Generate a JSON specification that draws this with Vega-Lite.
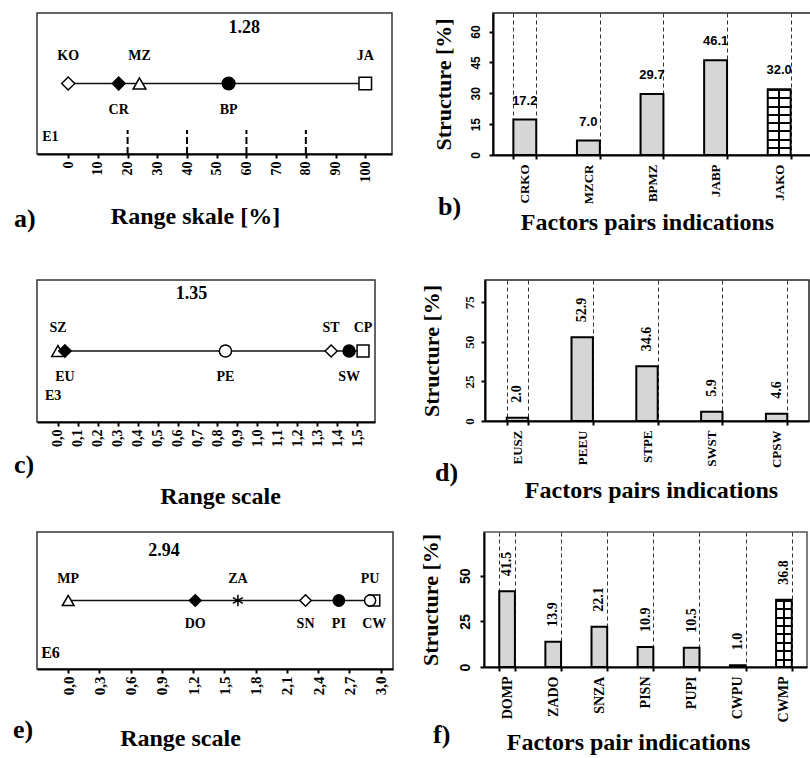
{
  "$schema": "https://vega.github.io/schema/vega-lite/v6.json",
  "background": "white",
  "padding": {"left": 12, "top": 12, "right": 0, "bottom": 0},
  "config": {
    "font": "Liberation Serif",
    "axis": {"domainColor": "black", "domainWidth": 2, "tickColor": "black", "tickWidth": 2, "tickSize": 4, "labelColor": "black", "titleColor": "black", "labelFont": "Liberation Serif", "labelFontWeight": "bold", "titleFont": "Liberation Serif", "titleFontWeight": "bold", "grid": false, "labelOverlap": false, "labelFlush": false},
    "title": {"font": "Liberation Serif", "fontWeight": "bold", "fontSize": 26, "color": "black", "orient": "bottom", "anchor": "start", "baseline": "alphabetic", "offset": 0},
    "view": {"stroke": "#333", "strokeWidth": 1.5},
    "text": {"font": "Liberation Serif", "fontWeight": "bold", "color": "black"}
  },
  "datasets": {
    "dotA": [{"factor": "KO", "value": 0}, {"factor": "CR", "value": 17}, {"factor": "MZ", "value": 24}, {"factor": "BP", "value": 54}, {"factor": "JA", "value": 100}],
    "marksA": [{"value": 20}, {"value": 40}, {"value": 60}, {"value": 80}],
    "dotC": [{"factor": "SZ", "value": 0}, {"factor": "EU", "value": 0.035}, {"factor": "PE", "value": 0.84}, {"factor": "ST", "value": 1.37}, {"factor": "SW", "value": 1.46}, {"factor": "CP", "value": 1.53}],
    "dotE": [{"factor": "MP", "value": 0}, {"factor": "DO", "value": 1.22}, {"factor": "ZA", "value": 1.63}, {"factor": "SN", "value": 2.28}, {"factor": "PI", "value": 2.6}, {"factor": "CW", "value": 2.94}, {"factor": "PU", "value": 2.9}],
    "barB": [{"pair": "CRKO", "share": 17.2, "type": "pair"}, {"pair": "MZCR", "share": 7.0, "type": "pair"}, {"pair": "BPMZ", "share": 29.7, "type": "pair"}, {"pair": "JABP", "share": 46.1, "type": "pair"}, {"pair": "JAKO", "share": 32.0, "type": "range"}],
    "barD": [{"pair": "EUSZ", "share": 2.0, "type": "pair"}, {"pair": "PEEU", "share": 52.9, "type": "pair"}, {"pair": "STPE", "share": 34.6, "type": "pair"}, {"pair": "SWST", "share": 5.9, "type": "pair"}, {"pair": "CPSW", "share": 4.6, "type": "pair"}],
    "barF": [{"pair": "DOMP", "share": 41.5, "type": "pair"}, {"pair": "ZADO", "share": 13.9, "type": "pair"}, {"pair": "SNZA", "share": 22.1, "type": "pair"}, {"pair": "PISN", "share": 10.9, "type": "pair"}, {"pair": "PUPI", "share": 10.5, "type": "pair"}, {"pair": "CWPU", "share": 1.0, "type": "pair"}, {"pair": "CWMP", "share": 36.8, "type": "range"}]
  },
  "vconcat": [
    {
      "hconcat": [
        {
          "width": 355, "height": 141,
          "title": {"text": "a)", "dx": -23, "dy": -26},
          "layer": [
            {
              "data": {"name": "dotA"},
              "encoding": {
                "x": {"field": "value", "type": "quantitative", "scale": {"domain": [-10.5, 109], "nice": false, "zero": false},
                      "axis": {"values": [0, 10, 20, 30, 40, 50, 60, 70, 80, 90, 100], "labelOverlap": false, "labelFlush": false, "labelAngle": 270, "labelAlign": "right", "labelBaseline": "middle", "labelFontSize": 14, "labelPadding": 3, "title": "Range skale [%]", "titleFontSize": 24, "titleX": 158, "titleY": 69, "titleAlign": "center", "titleBaseline": "alphabetic"}},
                "y": {"datum": 5, "type": "quantitative", "scale": {"domain": [0, 10], "nice": false, "zero": false}, "axis": null}
              },
              "layer": [
                {"mark": {"type": "line", "color": "#111", "strokeWidth": 1.5}},
                {"mark": {"type": "point", "filled": true, "opacity": 1, "stroke": "black", "strokeWidth": 1.5},
                 "encoding": {
                   "shape": {"field": "factor", "type": "nominal", "legend": null, "scale": {"domain": ["KO","CR","MZ","BP","JA","SZ","EU","PE","ST","SW","CP","MP","DO","ZA","SN","PI","PU","CW"], "range": ["diamond","diamond","triangle-up","circle","square","triangle-up","diamond","circle","diamond","circle","square","triangle-up","diamond","M0,-1L0,1M-0.87,-0.5L0.87,0.5M-0.87,0.5L0.87,-0.5","diamond","circle","circle","square"]}},
                   "fill": {"field": "factor", "type": "nominal", "legend": null, "scale": {"domain": ["KO","CR","MZ","BP","JA","SZ","EU","PE","ST","SW","CP","MP","DO","ZA","SN","PI","PU","CW"], "range": ["white","black","white","black","white","white","black","white","white","black","white","white","black","white","white","black","white","white"]}},
                   "size": {"field": "factor", "type": "nominal", "legend": null, "scale": {"domain": ["KO","CR","MZ","BP","JA","SZ","EU","PE","ST","SW","CP","MP","DO","ZA","SN","PI","PU","CW"], "range": [169,121,196,144,196,169,121,110,169,150,196,196,200,196,169,150,110,180]}}}},
                {"transform": [{"filter": "indexof(['KO','MZ','JA'], datum.factor) >= 0"}],
                 "mark": {"type": "text", "fontSize": 14, "baseline": "middle"},
                 "encoding": {"y": {"datum": 6.95}, "text": {"field": "factor"}}},
                {"transform": [{"filter": "indexof(['KO','MZ','JA'], datum.factor) < 0"}],
                 "mark": {"type": "text", "fontSize": 14, "baseline": "middle"},
                 "encoding": {"y": {"datum": 3.1}, "text": {"field": "factor"}}},
                {"data": {"name": "marksA"},
                 "mark": {"type": "rule", "color": "black", "strokeWidth": 2, "strokeDash": [7, 3]},
                 "encoding": {"y": {"datum": 0}, "y2": {"datum": 1.7}}}
              ]
            },
            {"data": {"values": [{"note": "1.28"}]},
             "mark": {"type": "text", "fontSize": 18, "baseline": "middle"},
             "encoding": {
               "x": {"datum": 59.3, "type": "quantitative", "scale": {"domain": [-10.5, 109], "nice": false, "zero": false},
                     "axis": {"values": [0, 10, 20, 30, 40, 50, 60, 70, 80, 90, 100], "labelOverlap": false, "labelFlush": false, "labelAngle": 270, "labelAlign": "right", "labelBaseline": "middle", "labelFontSize": 14, "labelPadding": 3, "title": "Range skale [%]", "titleFontSize": 24, "titleX": 158, "titleY": 69, "titleAlign": "center", "titleBaseline": "alphabetic"}},
               "y": {"datum": 8.94, "type": "quantitative", "axis": null}, "text": {"field": "note"}}},
            {"data": {"values": [{"note": "E1"}]},
             "mark": {"type": "text", "fontSize": 14, "align": "left", "baseline": "middle"},
             "encoding": {
               "x": {"datum": -8.75, "type": "quantitative", "scale": {"domain": [-10.5, 109], "nice": false, "zero": false},
                     "axis": {"values": [0, 10, 20, 30, 40, 50, 60, 70, 80, 90, 100], "labelOverlap": false, "labelFlush": false, "labelAngle": 270, "labelAlign": "right", "labelBaseline": "middle", "labelFontSize": 14, "labelPadding": 3, "title": "Range skale [%]", "titleFontSize": 24, "titleX": 158, "titleY": 69, "titleAlign": "center", "titleBaseline": "alphabetic"}},
               "y": {"datum": 1.2, "type": "quantitative", "axis": null}, "text": {"field": "note"}}}
          ]
        },
        {
          "width": 318, "height": 142,
          "view": {"stroke": "#222", "strokeWidth": 1.5},
          "title": {"text": "b)", "dx": 6, "dy": -44},
          "data": {"name": "barB"},
          "encoding": {
            "x": {"field": "pair", "type": "nominal", "sort": null, "scale": {"domain": ["CRKO","MZCR","BPMZ","JABP","JAKO"], "paddingInner": 0.64, "paddingOuter": 0.32},
                  "axis": {"labelAngle": 270, "labelAlign": "right", "labelBaseline": "middle", "labelFontSize": 13, "labelPadding": 5, "tickBand": "extent", "grid": true, "gridDash": [4, 3], "gridColor": "#333", "gridWidth": 1, "title": "Factors pairs indications", "titleFontSize": 24, "titleX": 154, "titleY": 74, "titleAlign": "center", "titleBaseline": "alphabetic"}},
            "y": {"field": "share", "type": "quantitative", "scale": {"domain": [0, 69], "nice": false},
                  "axis": {"values": [0, 15, 30, 45, 60], "labelAngle": 270, "labelAlign": "center", "labelBaseline": "bottom", "labelFont": "Liberation Sans", "labelFontSize": 12, "labelPadding": 7, "title": "Structure [%]", "titleFontSize": 22, "titlePadding": 14}}
          },
          "layer": [
            {"transform": [{"filter": "datum.type === 'pair'"}], "mark": {"type": "bar", "fill": "#d6d6d6", "stroke": "black", "strokeWidth": 2}},
            {"transform": [{"filter": "datum.type === 'range'"}], "mark": {"type": "bar", "stroke": "black", "strokeWidth": 2, "fill": {"gradient": "linear", "x1": 0, "y1": 0, "x2": 0, "y2": 1, "stops": [
              {"offset": 0, "color": "#000"}, {"offset": 0.03, "color": "#000"}, {"offset": 0.03, "color": "#fff"},
              {"offset": 0.125, "color": "#fff"}, {"offset": 0.125, "color": "#000"}, {"offset": 0.155, "color": "#000"}, {"offset": 0.155, "color": "#fff"},
              {"offset": 0.25, "color": "#fff"}, {"offset": 0.25, "color": "#000"}, {"offset": 0.28, "color": "#000"}, {"offset": 0.28, "color": "#fff"},
              {"offset": 0.375, "color": "#fff"}, {"offset": 0.375, "color": "#000"}, {"offset": 0.405, "color": "#000"}, {"offset": 0.405, "color": "#fff"},
              {"offset": 0.5, "color": "#fff"}, {"offset": 0.5, "color": "#000"}, {"offset": 0.53, "color": "#000"}, {"offset": 0.53, "color": "#fff"},
              {"offset": 0.625, "color": "#fff"}, {"offset": 0.625, "color": "#000"}, {"offset": 0.655, "color": "#000"}, {"offset": 0.655, "color": "#fff"},
              {"offset": 0.75, "color": "#fff"}, {"offset": 0.75, "color": "#000"}, {"offset": 0.78, "color": "#000"}, {"offset": 0.78, "color": "#fff"},
              {"offset": 0.875, "color": "#fff"}, {"offset": 0.875, "color": "#000"}, {"offset": 0.905, "color": "#000"}, {"offset": 0.905, "color": "#fff"},
              {"offset": 1, "color": "#fff"}]}}},
            {"transform": [{"filter": "datum.type === 'range'"}], "mark": {"type": "bar", "strokeWidth": 0, "fill": {"gradient": "linear", "x1": 0, "y1": 0, "x2": 1, "y2": 0, "stops": [
              {"offset": 0, "color": "rgba(0,0,0,0)"}, {"offset": 0.46, "color": "rgba(0,0,0,0)"}, {"offset": 0.46, "color": "#000"}, {"offset": 0.54, "color": "#000"}, {"offset": 0.54, "color": "rgba(0,0,0,0)"}, {"offset": 1, "color": "rgba(0,0,0,0)"}]}}},
            {"mark": {"type": "text", "dy": -12, "baseline": "bottom", "font": "Liberation Sans", "fontSize": 13},
             "encoding": {"text": {"field": "share", "type": "quantitative", "format": ".1f"}}}
          ]
        }
      ],
      "spacing": 38
    },
    {
      "vconcat": [
        {
          "hconcat": [
            {
              "width": 338, "height": 142,
              "title": {"text": "c)", "dx": -23, "dy": -60},
              "layer": [
                {
                  "data": {"name": "dotC"},
                  "encoding": {
                    "x": {"field": "value", "type": "quantitative", "scale": {"domain": [-0.105, 1.59], "nice": false, "zero": false},
                          "axis": {"values": [0, 0.1, 0.2, 0.3, 0.4, 0.5, 0.6, 0.7, 0.8, 0.9, 1.0, 1.1, 1.2, 1.3, 1.4, 1.5], "labelExpr": "replace(format(datum.value, '.1f'), '.', ',')", "labelOverlap": false, "labelFlush": false, "labelAngle": 270, "labelAlign": "right", "labelBaseline": "middle", "labelFontSize": 14, "labelPadding": 3, "title": "Range scale", "titleFontSize": 24, "titleX": 183, "titleY": 81, "titleAlign": "center", "titleBaseline": "alphabetic"}},
                    "y": {"datum": 5, "type": "quantitative", "scale": {"domain": [0, 10], "nice": false, "zero": false}, "axis": null}
                  },
                  "layer": [
                    {"mark": {"type": "line", "color": "#111", "strokeWidth": 1.5}},
                    {"mark": {"type": "point", "filled": true, "opacity": 1, "stroke": "black", "strokeWidth": 1.5},
                     "encoding": {
                       "shape": {"field": "factor", "type": "nominal", "legend": null, "scale": {"domain": ["KO","CR","MZ","BP","JA","SZ","EU","PE","ST","SW","CP","MP","DO","ZA","SN","PI","PU","CW"], "range": ["diamond","diamond","triangle-up","circle","square","triangle-up","diamond","circle","diamond","circle","square","triangle-up","diamond","M0,-1L0,1M-0.87,-0.5L0.87,0.5M-0.87,0.5L0.87,-0.5","diamond","circle","circle","square"]}},
                       "fill": {"field": "factor", "type": "nominal", "legend": null, "scale": {"domain": ["KO","CR","MZ","BP","JA","SZ","EU","PE","ST","SW","CP","MP","DO","ZA","SN","PI","PU","CW"], "range": ["white","black","white","black","white","white","black","white","white","black","white","white","black","white","white","black","white","white"]}},
                       "size": {"field": "factor", "type": "nominal", "legend": null, "scale": {"domain": ["KO","CR","MZ","BP","JA","SZ","EU","PE","ST","SW","CP","MP","DO","ZA","SN","PI","PU","CW"], "range": [169,121,196,144,196,169,121,110,169,150,196,196,200,196,169,150,110,180]}}}},
                    {"transform": [{"filter": "indexof(['SZ','ST','CP'], datum.factor) >= 0"}],
                     "mark": {"type": "text", "fontSize": 14, "baseline": "middle"},
                     "encoding": {"y": {"datum": 6.6}, "text": {"field": "factor"}}},
                    {"transform": [{"filter": "indexof(['SZ','ST','CP'], datum.factor) < 0"}],
                     "mark": {"type": "text", "fontSize": 14, "baseline": "middle"},
                     "encoding": {"y": {"datum": 3.2}, "text": {"field": "factor"}}}
                  ]
                },
                {"data": {"values": [{"note": "1.35"}]},
                 "mark": {"type": "text", "fontSize": 18, "baseline": "middle"},
                 "encoding": {
                   "x": {"datum": 0.67, "type": "quantitative", "scale": {"domain": [-0.105, 1.59], "nice": false, "zero": false},
                         "axis": {"values": [0, 0.1, 0.2, 0.3, 0.4, 0.5, 0.6, 0.7, 0.8, 0.9, 1.0, 1.1, 1.2, 1.3, 1.4, 1.5], "labelExpr": "replace(format(datum.value, '.1f'), '.', ',')", "labelOverlap": false, "labelFlush": false, "labelAngle": 270, "labelAlign": "right", "labelBaseline": "middle", "labelFontSize": 14, "labelPadding": 3, "title": "Range scale", "titleFontSize": 24, "titleX": 183, "titleY": 81, "titleAlign": "center", "titleBaseline": "alphabetic"}},
                   "y": {"datum": 9.0, "type": "quantitative", "axis": null}, "text": {"field": "note"}}},
                {"data": {"values": [{"note": "E3"}]},
                 "mark": {"type": "text", "fontSize": 14, "align": "left", "baseline": "middle"},
                 "encoding": {
                   "x": {"datum": -0.065, "type": "quantitative", "scale": {"domain": [-0.105, 1.59], "nice": false, "zero": false},
                         "axis": {"values": [0, 0.1, 0.2, 0.3, 0.4, 0.5, 0.6, 0.7, 0.8, 0.9, 1.0, 1.1, 1.2, 1.3, 1.4, 1.5], "labelExpr": "replace(format(datum.value, '.1f'), '.', ',')", "labelOverlap": false, "labelFlush": false, "labelAngle": 270, "labelAlign": "right", "labelBaseline": "middle", "labelFontSize": 14, "labelPadding": 3, "title": "Range scale", "titleFontSize": 24, "titleX": 183, "titleY": 81, "titleAlign": "center", "titleBaseline": "alphabetic"}},
                   "y": {"datum": 1.83, "type": "quantitative", "axis": null}, "text": {"field": "note"}}}
              ]
            },
            {
              "width": 324, "height": 141,
              "view": {"stroke": "#222", "strokeWidth": 1.5},
              "title": {"text": "d)", "dx": 15, "dy": -46},
              "data": {"name": "barD"},
              "encoding": {
                "x": {"field": "pair", "type": "nominal", "sort": null, "scale": {"domain": ["EUSZ","PEEU","STPE","SWST","CPSW"], "paddingInner": 0.67, "paddingOuter": 0.335},
                      "axis": {"labelAngle": 270, "labelAlign": "right", "labelBaseline": "middle", "labelFontSize": 13, "labelPadding": 5, "tickBand": "extent", "grid": true, "gridDash": [4, 3], "gridColor": "#333", "gridWidth": 1, "title": "Factors pairs indications", "titleFontSize": 24, "titleX": 166, "titleY": 76, "titleAlign": "center", "titleBaseline": "alphabetic"}},
                "y": {"field": "share", "type": "quantitative", "scale": {"domain": [0, 89], "nice": false},
                      "axis": {"values": [0, 25, 50, 75], "labelAngle": 270, "labelAlign": "center", "labelBaseline": "bottom", "labelFontSize": 13, "labelPadding": 5, "title": "Structure [%]", "titleFontSize": 22, "titlePadding": 20}}
              },
              "layer": [
                {"mark": {"type": "bar", "fill": "#d6d6d6", "stroke": "black", "strokeWidth": 2}},
                {"mark": {"type": "text", "angle": 270, "align": "left", "baseline": "middle", "dx": 15, "fontSize": 14},
                 "encoding": {"text": {"field": "share", "type": "quantitative", "format": ".1f"}}}
              ]
            }
          ],
          "spacing": 43
        },
        {
          "hconcat": [
            {
              "width": 356, "height": 137,
              "title": {"text": "e)", "dx": -24, "dy": -37},
              "layer": [
                {
                  "data": {"name": "dotE"},
                  "encoding": {
                    "x": {"field": "value", "type": "quantitative", "scale": {"domain": [-0.3, 3.12], "nice": false, "zero": false},
                          "axis": {"values": [0, 0.3, 0.6, 0.9, 1.2, 1.5, 1.8, 2.1, 2.4, 2.7, 3.0], "labelExpr": "replace(format(datum.value, '.1f'), '.', ',')", "labelOverlap": false, "labelFlush": false, "labelAngle": 270, "labelAlign": "right", "labelBaseline": "middle", "labelFontSize": 15, "labelPadding": 3, "title": "Range scale", "titleFontSize": 24, "titleX": 143, "titleY": 76, "titleAlign": "center", "titleBaseline": "alphabetic"}},
                    "y": {"datum": 5, "type": "quantitative", "scale": {"domain": [0, 10], "nice": false, "zero": false}, "axis": null}
                  },
                  "layer": [
                    {"mark": {"type": "line", "color": "#111", "strokeWidth": 1.5}},
                    {"mark": {"type": "point", "filled": true, "opacity": 1, "stroke": "black", "strokeWidth": 1.5},
                     "encoding": {
                       "shape": {"field": "factor", "type": "nominal", "legend": null, "scale": {"domain": ["KO","CR","MZ","BP","JA","SZ","EU","PE","ST","SW","CP","MP","DO","ZA","SN","PI","PU","CW"], "range": ["diamond","diamond","triangle-up","circle","square","triangle-up","diamond","circle","diamond","circle","square","triangle-up","diamond","M0,-1L0,1M-0.87,-0.5L0.87,0.5M-0.87,0.5L0.87,-0.5","diamond","circle","circle","square"]}},
                       "fill": {"field": "factor", "type": "nominal", "legend": null, "scale": {"domain": ["KO","CR","MZ","BP","JA","SZ","EU","PE","ST","SW","CP","MP","DO","ZA","SN","PI","PU","CW"], "range": ["white","black","white","black","white","white","black","white","white","black","white","white","black","white","white","black","white","white"]}},
                       "size": {"field": "factor", "type": "nominal", "legend": null, "scale": {"domain": ["KO","CR","MZ","BP","JA","SZ","EU","PE","ST","SW","CP","MP","DO","ZA","SN","PI","PU","CW"], "range": [169,121,196,144,196,169,121,110,169,150,196,196,200,196,169,150,110,180]}}}},
                    {"transform": [{"filter": "indexof(['MP','ZA','PU'], datum.factor) >= 0"}],
                     "mark": {"type": "text", "fontSize": 14, "baseline": "middle"},
                     "encoding": {"y": {"datum": 6.6}, "text": {"field": "factor"}}},
                    {"transform": [{"filter": "indexof(['MP','ZA','PU'], datum.factor) < 0"}],
                     "mark": {"type": "text", "fontSize": 14, "baseline": "middle"},
                     "encoding": {"y": {"datum": 3.3}, "text": {"field": "factor"}}}
                  ]
                },
                {"data": {"values": [{"note": "2.94"}]},
                 "mark": {"type": "text", "fontSize": 18, "baseline": "middle"},
                 "encoding": {
                   "x": {"datum": 0.92, "type": "quantitative", "scale": {"domain": [-0.3, 3.12], "nice": false, "zero": false},
                         "axis": {"values": [0, 0.3, 0.6, 0.9, 1.2, 1.5, 1.8, 2.1, 2.4, 2.7, 3.0], "labelExpr": "replace(format(datum.value, '.1f'), '.', ',')", "labelOverlap": false, "labelFlush": false, "labelAngle": 270, "labelAlign": "right", "labelBaseline": "middle", "labelFontSize": 15, "labelPadding": 3, "title": "Range scale", "titleFontSize": 24, "titleX": 143, "titleY": 76, "titleAlign": "center", "titleBaseline": "alphabetic"}},
                   "y": {"datum": 8.6, "type": "quantitative", "axis": null}, "text": {"field": "note"}}},
                {"data": {"values": [{"note": "E6"}]},
                 "mark": {"type": "text", "fontSize": 16, "align": "left", "baseline": "middle"},
                 "encoding": {
                   "x": {"datum": -0.26, "type": "quantitative", "scale": {"domain": [-0.3, 3.12], "nice": false, "zero": false},
                         "axis": {"values": [0, 0.3, 0.6, 0.9, 1.2, 1.5, 1.8, 2.1, 2.4, 2.7, 3.0], "labelExpr": "replace(format(datum.value, '.1f'), '.', ',')", "labelOverlap": false, "labelFlush": false, "labelAngle": 270, "labelAlign": "right", "labelBaseline": "middle", "labelFontSize": 15, "labelPadding": 3, "title": "Range scale", "titleFontSize": 24, "titleX": 143, "titleY": 76, "titleAlign": "center", "titleBaseline": "alphabetic"}},
                   "y": {"datum": 1.17, "type": "quantitative", "axis": null}, "text": {"field": "note"}}}
              ]
            },
            {
              "width": 323, "height": 135,
              "view": {"stroke": "#555", "strokeWidth": 1.5},
              "title": {"text": "f)", "dx": 14, "dy": -36},
              "data": {"name": "barF"},
              "encoding": {
                "x": {"field": "pair", "type": "nominal", "sort": null, "scale": {"domain": ["DOMP","ZADO","SNZA","PISN","PUPI","CWPU","CWMP"], "paddingInner": 0.66, "paddingOuter": 0.33},
                      "axis": {"labelAngle": 270, "labelAlign": "right", "labelBaseline": "middle", "labelFontSize": 14, "labelPadding": 5, "tickBand": "extent", "grid": true, "gridDash": [4, 3], "gridColor": "#333", "gridWidth": 1, "title": "Factors pair indications", "titleFontSize": 24, "titleX": 144, "titleY": 82, "titleAlign": "center", "titleBaseline": "alphabetic"}},
                "y": {"field": "share", "type": "quantitative", "scale": {"domain": [0, 74], "nice": false},
                      "axis": {"values": [0, 25, 50], "labelAngle": 270, "labelAlign": "center", "labelBaseline": "bottom", "labelFont": "Liberation Sans", "labelFontSize": 14, "labelPadding": 8, "title": "Structure [%]", "titleFontSize": 22, "titlePadding": 16}}
              },
              "layer": [
                {"transform": [{"filter": "datum.type === 'pair'"}], "mark": {"type": "bar", "fill": "#d6d6d6", "stroke": "black", "strokeWidth": 2}},
                {"transform": [{"filter": "datum.type === 'range'"}], "mark": {"type": "bar", "stroke": "black", "strokeWidth": 2, "fill": {"gradient": "linear", "x1": 0, "y1": 0, "x2": 0, "y2": 1, "stops": [
                  {"offset": 0, "color": "#000"}, {"offset": 0.03, "color": "#000"}, {"offset": 0.03, "color": "#fff"},
                  {"offset": 0.125, "color": "#fff"}, {"offset": 0.125, "color": "#000"}, {"offset": 0.155, "color": "#000"}, {"offset": 0.155, "color": "#fff"},
                  {"offset": 0.25, "color": "#fff"}, {"offset": 0.25, "color": "#000"}, {"offset": 0.28, "color": "#000"}, {"offset": 0.28, "color": "#fff"},
                  {"offset": 0.375, "color": "#fff"}, {"offset": 0.375, "color": "#000"}, {"offset": 0.405, "color": "#000"}, {"offset": 0.405, "color": "#fff"},
                  {"offset": 0.5, "color": "#fff"}, {"offset": 0.5, "color": "#000"}, {"offset": 0.53, "color": "#000"}, {"offset": 0.53, "color": "#fff"},
                  {"offset": 0.625, "color": "#fff"}, {"offset": 0.625, "color": "#000"}, {"offset": 0.655, "color": "#000"}, {"offset": 0.655, "color": "#fff"},
                  {"offset": 0.75, "color": "#fff"}, {"offset": 0.75, "color": "#000"}, {"offset": 0.78, "color": "#000"}, {"offset": 0.78, "color": "#fff"},
                  {"offset": 0.875, "color": "#fff"}, {"offset": 0.875, "color": "#000"}, {"offset": 0.905, "color": "#000"}, {"offset": 0.905, "color": "#fff"},
                  {"offset": 1, "color": "#fff"}]}}},
                {"transform": [{"filter": "datum.type === 'range'"}], "mark": {"type": "bar", "strokeWidth": 0, "fill": {"gradient": "linear", "x1": 0, "y1": 0, "x2": 1, "y2": 0, "stops": [
                  {"offset": 0, "color": "rgba(0,0,0,0)"}, {"offset": 0.46, "color": "rgba(0,0,0,0)"}, {"offset": 0.46, "color": "#000"}, {"offset": 0.54, "color": "#000"}, {"offset": 0.54, "color": "rgba(0,0,0,0)"}, {"offset": 1, "color": "rgba(0,0,0,0)"}]}}},
                {"mark": {"type": "text", "angle": 270, "align": "left", "baseline": "middle", "dx": 15, "fontSize": 14},
                 "encoding": {"text": {"field": "share", "type": "quantitative", "format": ".1f"}}}
              ]
            }
          ],
          "spacing": 24
        }
      ],
      "spacing": 22
    }
  ],
  "spacing": 44
}
